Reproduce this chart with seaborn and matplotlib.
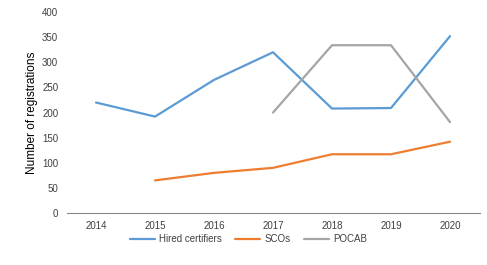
import numpy as np
import pandas as pd
import matplotlib
matplotlib.use("Agg")
import matplotlib.pyplot as plt
import seaborn as sns

years = ["2014", "2015", "2016", "2017", "2018", "2019", "2020"]
hired = [220, 192, 265, 320, 208, 209, 352]
scos = [np.nan, 65, 80, 90, 117, 117, 142]
pocab = [np.nan, np.nan, np.nan, 200, 334, 334, 181]
series = ["Hired certifiers", "SCOs", "POCAB"]
colors = ["#5B9BD5", "#ED7D31", "#A5A5A5"]

df = pd.DataFrame({"year": years * 3,
                   "value": hired + scos + pocab,
                   "series": [s for s in series for _ in years]})

sns.set_style("white")
plt.rcParams["font.family"] = ["Liberation Sans", "DejaVu Sans"]

fig = plt.figure(figsize=(4.87, 2.65), dpi=100)
ax = fig.add_axes([0.1366, 0.196, 0.848, 0.7585])

sns.lineplot(data=df, x="year", y="value", hue="series", palette=colors,
             linewidth=1.6, ax=ax, sort=False)

ax.set_xlim(-0.5, 6.5)
ax.set_ylim(0, 400)
ax.set_yticks(range(0, 401, 50))
ax.set_xlabel("")
ax.set_ylabel("Number of registrations", fontsize=8.5, color="#000000",
              labelpad=3)
ax.tick_params(axis="both", labelsize=7, colors="#404040", length=0, pad=6)
for s in ["top", "right", "left"]:
    ax.spines[s].set_visible(False)
ax.spines["bottom"].set_color("#868686")
ax.spines["bottom"].set_linewidth(0.8)

ax.legend(loc="upper center", ncol=3,
          frameon=False, fontsize=7, handlelength=2.6, handletextpad=0.4,
          columnspacing=1.4, labelcolor="#404040")
leg = ax.get_legend()
leg.set_bbox_to_anchor((0.51, 0.15), transform=fig.transFigure)

fig.savefig("out.png", dpi=100)
